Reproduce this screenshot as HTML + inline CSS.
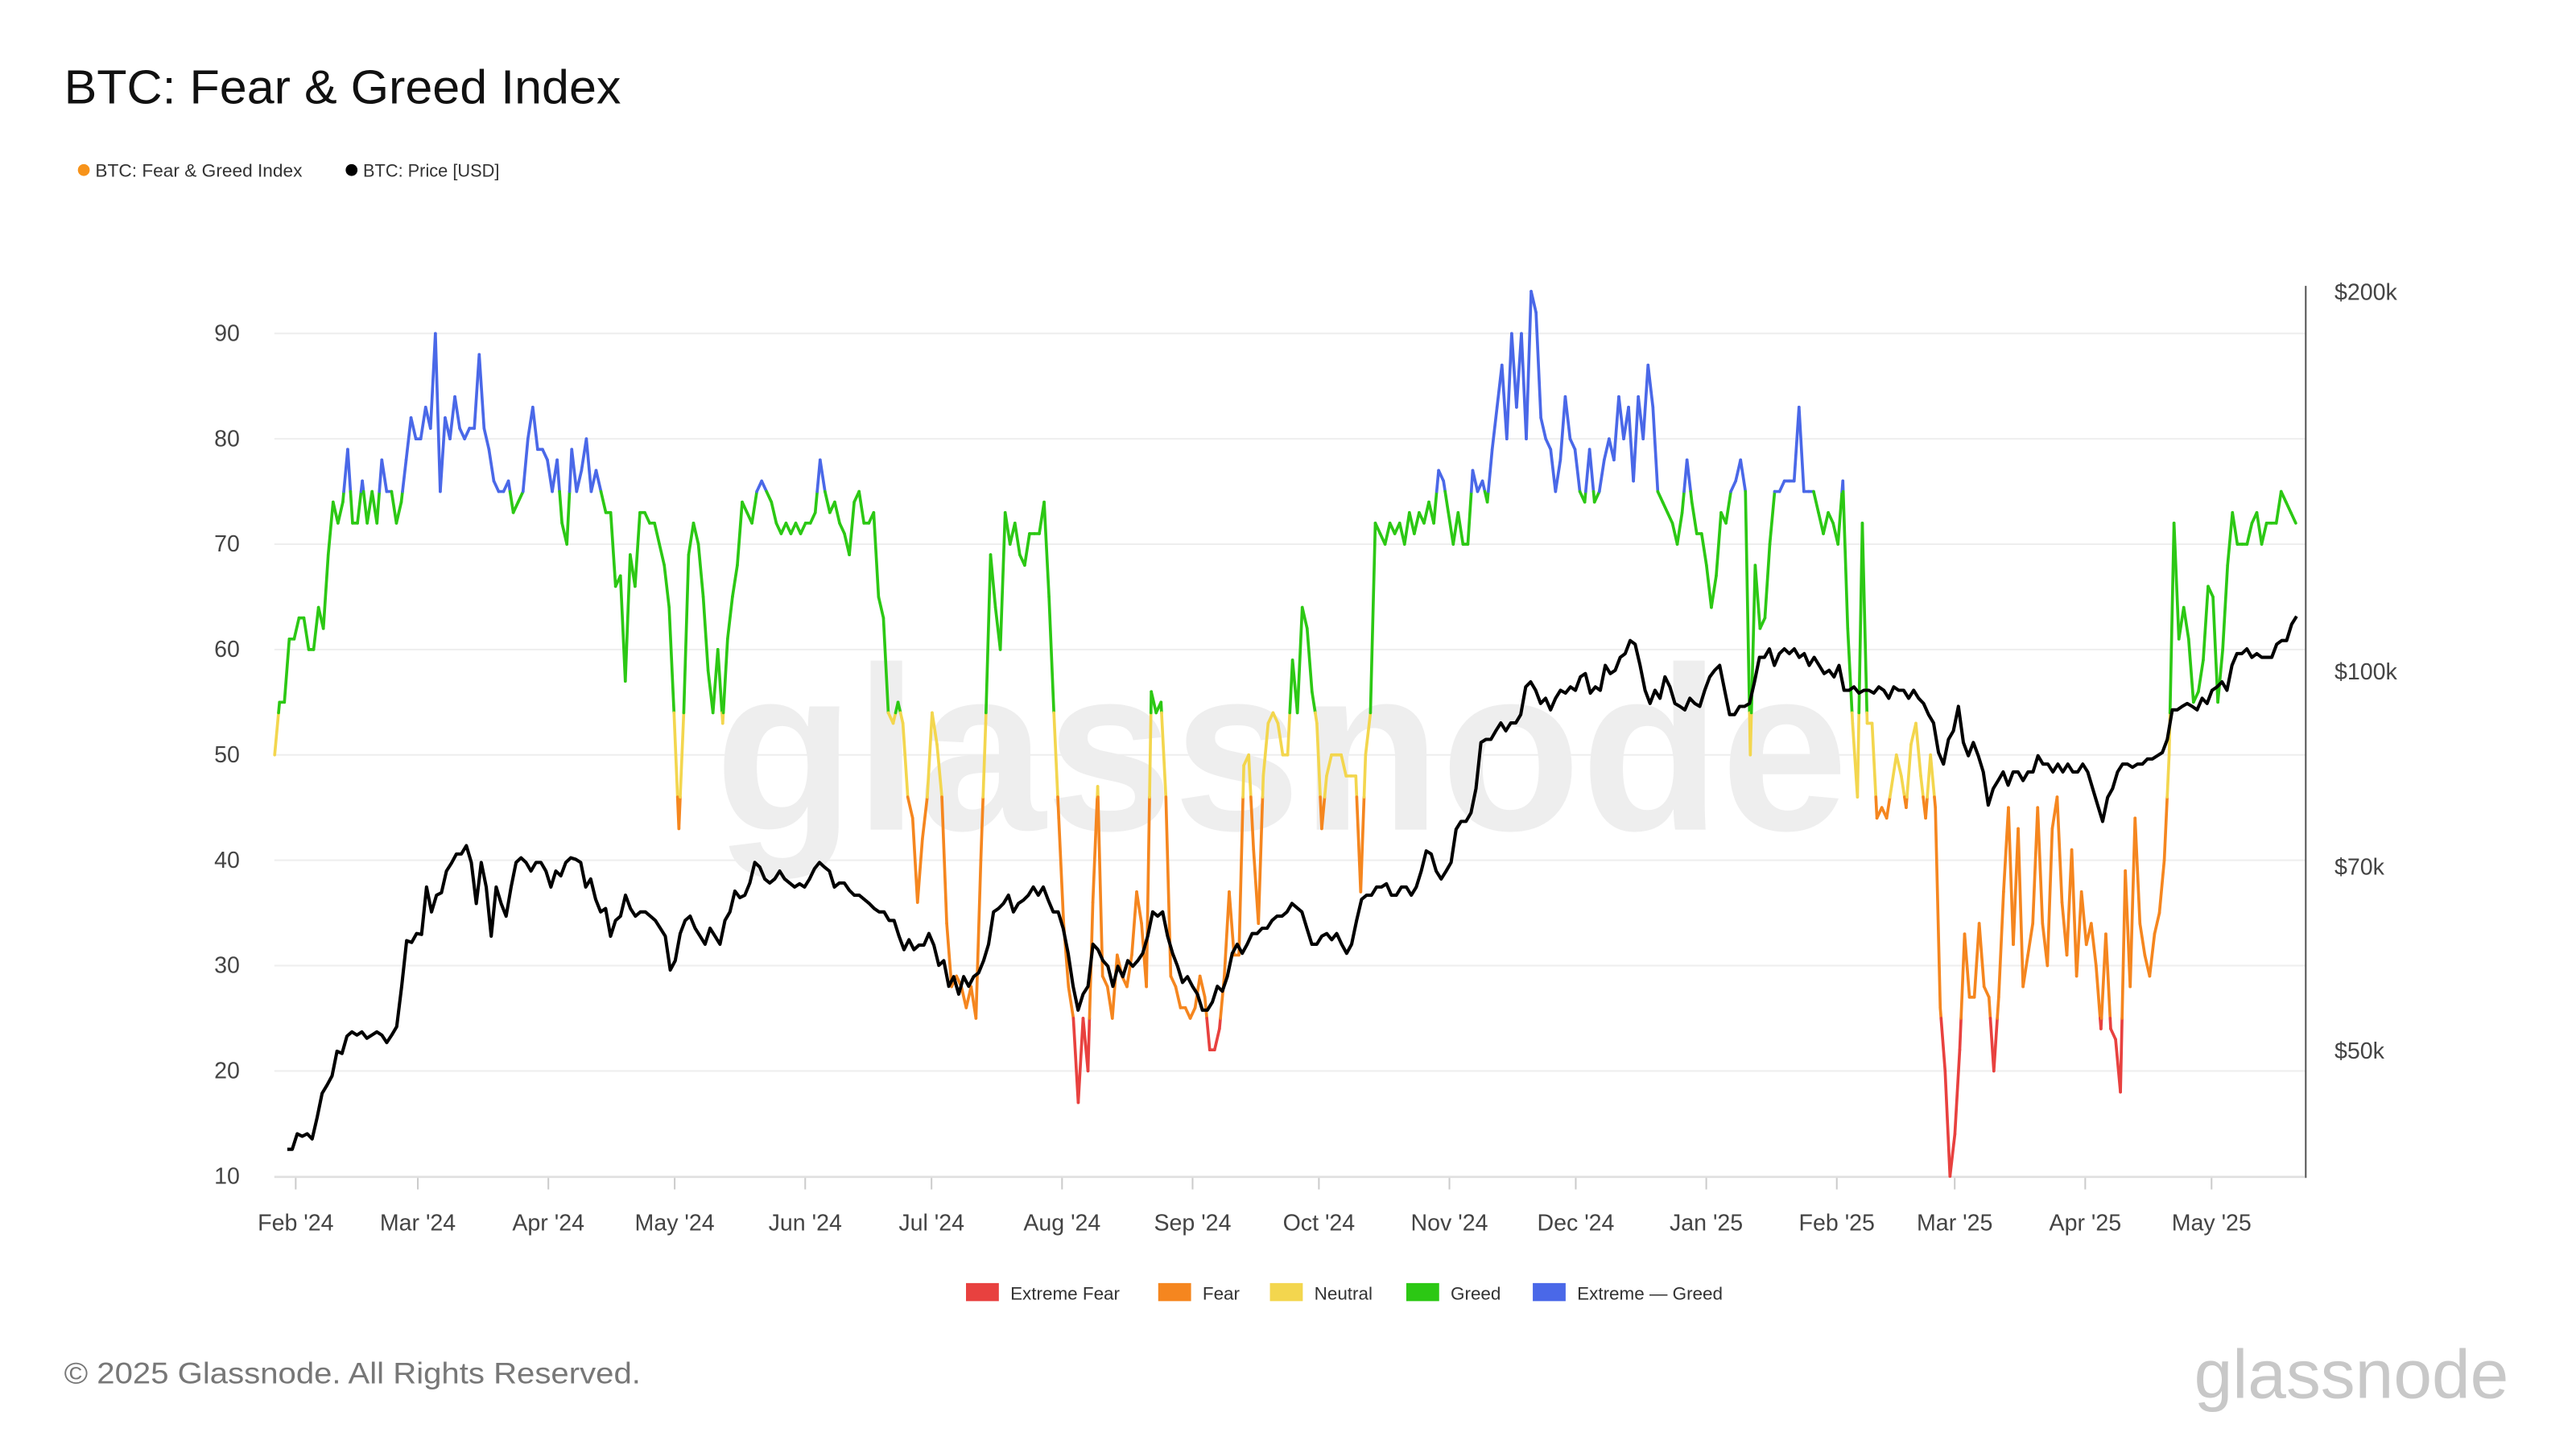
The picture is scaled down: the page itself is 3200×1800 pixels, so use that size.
<!DOCTYPE html>
<html><head><meta charset="utf-8">
<style>
html,body{margin:0;padding:0;background:#fff;}
svg{display:block;}
text{font-family:"Liberation Sans",sans-serif;}
</style></head>
<body>
<svg id="chart" width="3200" height="1800" viewBox="0 0 1568 882" xmlns="http://www.w3.org/2000/svg">
  <rect x="0" y="0" width="1568" height="882" fill="#fff"/>
  <text x="39" y="63" font-size="29" fill="#111" textLength="339" lengthAdjust="spacingAndGlyphs">BTC: Fear &amp; Greed Index</text>
  <g>
    <circle cx="51" cy="103.5" r="3.6" fill="#f7931a"/>
    <text x="58" y="107.5" font-size="11" fill="#333" textLength="126" lengthAdjust="spacingAndGlyphs">BTC: Fear &amp; Greed Index</text>
    <circle cx="214" cy="103.5" r="3.6" fill="#000"/>
    <text x="221" y="107.5" font-size="11" fill="#333" textLength="83" lengthAdjust="spacingAndGlyphs">BTC: Price [USD]</text>
  </g>
  <text x="780" y="505" font-size="142" fill="#eeeeee" text-anchor="middle" font-weight="bold" textLength="690" lengthAdjust="spacingAndGlyphs">glassnode</text>
  <g id="grid"></g>
  <g id="axes"></g>
  <g id="fgi"></g>
  <g id="price"></g>
  <g font-size="11" fill="#333">
    <rect x="588" y="781" width="20" height="11" fill="#e8413f"/>
    <text x="615" y="791">Extreme Fear</text>
    <rect x="705" y="781" width="20" height="11" fill="#f5861f"/>
    <text x="732" y="791">Fear</text>
    <rect x="773" y="781" width="20" height="11" fill="#f3d64e"/>
    <text x="800" y="791">Neutral</text>
    <rect x="856" y="781" width="20" height="11" fill="#2cc814"/>
    <text x="883" y="791">Greed</text>
    <rect x="933" y="781" width="20" height="11" fill="#4a68e8"/>
    <text x="960" y="791">Extreme — Greed</text>
  </g>
  <text x="39" y="842" font-size="18" fill="#777" textLength="351" lengthAdjust="spacingAndGlyphs">© 2025 Glassnode. All Rights Reserved.</text>
  <text x="1527" y="851" font-size="42" fill="#c8c8c8" text-anchor="end">glassnode</text>
</svg>
<script>
const leftTicks = [10,20,30,40,50,60,70,80,90];
const rightTicks = [50,70,100,200];
const rightTickLabels = ["$50k","$70k","$100k","$200k"];
const monthLabels = ["Feb '24","Mar '24","Apr '24","May '24","Jun '24","Jul '24","Aug '24","Sep '24","Oct '24","Nov '24","Dec '24","Jan '25","Feb '25","Mar '25","Apr '25","May '25"];
const monthDays = [0,29,60,90,121,151,182,213,243,274,304,335,366,394,425,455];
const fgiStartDay = -5;
const fgiEndDay = 475;
const priceStartDay = -2;
const priceEndDay = 475.2;
const fgiValues = [50,55,55,61,61,63,63,60,60,64,62,69,74,72,74,79,72,72,76,72,75,72,78,75,75,72,74,78,82,80,80,83,81,90,75,82,80,84,81,80,81,81,88,81,79,76,75,75,76,73,74,75,80,83,79,79,78,75,78,72,70,79,75,77,80,75,77,75,73,73,66,67,57,69,66,73,73,72,72,70,68,64,54,43,54,69,72,70,65,58,54,60,53,61,65,68,74,73,72,75,76,75,74,72,71,72,71,72,71,72,72,73,78,75,73,74,72,71,69,74,75,72,72,73,65,63,54,53,55,53,46,44,36,42,46,54,51,46,34,28,29,28,26,28,25,40,53,69,64,60,73,70,72,69,68,71,71,71,74,65,54,44,34,28,25,17,25,20,36,47,29,28,25,31,29,28,31,37,34,28,56,54,55,46,29,28,26,26,25,26,29,27,22,22,24,29,37,31,31,49,50,41,34,48,53,54,53,50,50,59,54,64,62,56,53,43,48,50,50,50,48,48,48,37,50,54,72,71,70,72,71,72,70,73,71,73,72,74,72,77,76,73,70,73,70,70,77,75,76,74,79,83,87,80,90,83,90,80,94,92,82,80,79,75,78,84,80,79,75,74,79,74,75,78,80,78,84,80,83,76,84,80,87,83,75,74,73,72,70,73,78,74,71,71,68,64,67,73,72,75,76,78,75,50,68,62,63,70,75,75,76,76,76,83,75,75,75,73,71,73,72,70,76,62,53,46,72,53,53,44,45,44,47,50,48,45,51,53,48,44,50,45,26,20,10,14,22,33,27,27,34,28,27,20,27,37,45,32,43,28,31,34,45,34,30,43,46,36,31,41,29,37,32,34,30,24,33,24,23,18,39,28,44,34,31,29,33,35,40,50,72,61,64,61,55,56,59,66,65,55,60,68,73,70,70,70,72,73,70,72,72,72,75,74,73,72];
const priceValuesK = [41.8,41.8,43.0,42.8,43.0,42.6,44.3,46.3,47.0,47.8,50.0,49.8,51.4,51.8,51.5,51.8,51.2,51.5,51.8,51.5,50.8,51.5,52.3,56.3,61.2,61.0,62.0,61.9,67.5,64.5,66.5,66.8,69.5,70.5,71.7,71.7,72.8,70.6,65.5,70.6,67.5,61.7,67.5,65.5,64.0,67.5,70.6,71.2,70.6,69.5,70.6,70.6,69.5,67.5,69.5,68.9,70.6,71.2,71.0,70.6,67.5,68.5,66.0,64.5,64.9,61.7,63.5,64.0,66.5,64.9,64.0,64.5,64.5,64.0,63.5,62.6,61.7,58.0,59.0,62.0,63.5,64.0,62.6,61.7,60.8,62.6,61.7,60.8,63.5,64.5,67.0,66.2,66.5,68.0,70.6,70.0,68.5,68.0,68.5,69.5,68.5,68.0,67.5,67.9,67.5,68.5,69.8,70.6,70.0,69.5,67.5,68.0,68.0,67.1,66.5,66.5,66.0,65.5,64.9,64.5,64.5,63.5,63.5,61.7,60.2,61.3,60.2,60.7,60.7,62.0,60.7,58.5,59.0,56.3,57.3,55.5,57.3,56.3,57.3,57.7,59.0,60.8,64.5,64.9,65.5,66.5,64.5,65.5,65.9,66.5,67.5,66.5,67.5,65.9,64.5,64.5,62.6,59.8,56.3,53.9,55.5,56.3,60.8,60.2,59.0,58.4,56.3,58.4,57.3,59.0,58.4,59.0,59.8,61.7,64.5,64.0,64.5,61.7,59.8,58.4,56.7,57.3,56.3,55.5,53.9,53.9,54.7,56.3,55.8,57.3,59.8,60.8,59.8,60.8,62.0,62.0,62.6,62.6,63.5,64.0,64.0,64.5,65.5,65.0,64.5,62.6,60.8,60.8,61.7,62.0,61.3,62.0,60.8,59.8,60.8,63.5,66.0,66.5,66.5,67.5,67.5,67.9,66.5,66.5,67.5,67.5,66.5,67.5,69.5,72.1,71.7,69.5,68.5,69.5,70.6,75.0,76.1,76.1,77.3,80.8,87.9,88.4,88.4,89.8,91.1,89.8,91.1,91.1,92.5,97.3,98.2,96.7,94.4,95.3,93.3,95.3,96.7,96.2,97.3,96.7,99.1,99.7,96.2,97.3,96.7,101.2,99.7,100.3,102.7,103.4,105.9,105.2,101.2,96.7,94.4,96.7,95.3,99.1,97.3,94.4,93.9,93.3,95.3,94.4,93.9,96.7,99.1,100.3,101.2,96.7,92.5,92.5,93.9,93.9,94.4,98.2,102.7,102.7,104.3,101.2,103.4,104.3,103.4,104.3,102.7,103.4,101.2,102.7,101.2,99.7,100.3,99.1,101.2,96.7,96.7,97.3,96.2,96.7,96.7,96.2,97.3,96.7,95.3,97.3,96.7,96.7,95.3,96.7,95.3,94.4,92.5,91.1,86.3,84.5,88.4,89.8,93.9,87.9,85.8,87.9,85.8,83.3,78.4,80.8,82.0,83.3,81.3,83.3,83.3,82.0,83.3,83.3,85.8,84.5,84.5,83.3,84.5,83.3,84.5,83.3,83.3,84.5,83.3,80.8,78.4,76.1,79.5,80.8,83.3,84.5,84.5,84.0,84.5,84.5,85.3,85.3,85.8,86.3,88.4,93.3,93.3,93.9,94.4,93.9,93.3,95.3,94.4,96.7,97.3,98.2,96.7,101.2,103.4,103.4,104.3,102.7,103.4,102.7,102.7,102.7,105.2,105.9,105.9,109.1,110.7];
const thresholds = [25,46,54,75];

const NS = "http://www.w3.org/2000/svg";
const xOf = d => 180 + d * 2.563;
const yLeft = v => 203 + (90 - v) * 6.4125;
const yRight = p => 409 - 767 * Math.log10(p / 100);
const dayAt = (i, n, s, e) => s + (e - s) * i / (n - 1);
function zoneColor(v){
  if (v < 25) return "#e8413f";
  if (v < 46) return "#f5861f";
  if (v < 54) return "#f3d64e";
  if (v < 75) return "#2cc814";
  return "#4a68e8";
}
function mk(tag, attrs, parent){
  const el = document.createElementNS(NS, tag);
  for (const k in attrs) el.setAttribute(k, attrs[k]);
  parent.appendChild(el);
  return el;
}
const grid = document.getElementById("grid");
const axes = document.getElementById("axes");
leftTicks.forEach(t => {
  const y = yLeft(t);
  const g = mk("line", {x1:167, x2:1403, y1:y, y2:y, stroke:"#eeeeee", "stroke-width":1}, grid);
  
  
  const tx = mk("text", {x:146, y:y+4.5, "font-size":14, fill:"#444", "text-anchor":"end"}, axes);
  tx.textContent = t;
  
  
});
rightTicks.forEach((p, i) => {
  const y = yRight(p);
  const tx = mk("text", {x:1421, y:y+4.5, "font-size":14, fill:"#444"}, axes);
  tx.textContent = rightTickLabels[i];
  
  
});
const ra = mk("line", {x1:1403.5, x2:1403.5, y1:174, y2:717, stroke:"#555", "stroke-width":1}, axes);


const xa = mk("line", {x1:167, x2:1403, y1:716.5, y2:716.5, stroke:"#ddd", "stroke-width":1}, axes);


monthLabels.forEach((lab, i) => {
  const x = xOf(monthDays[i]);
  const tk = mk("line", {x1:x, x2:x, y1:717, y2:724, stroke:"#ccc", "stroke-width":1}, axes);
  
  
  const tx = mk("text", {x:x, y:749, "font-size":14, fill:"#444", "text-anchor":"middle"}, axes);
  tx.textContent = lab;
  
  
});

const fg = document.getElementById("fgi");
const nF = fgiValues.length;
for (let i = 0; i < nF - 1; i++) {
  const d0 = dayAt(i, nF, fgiStartDay, fgiEndDay), d1 = dayAt(i+1, nF, fgiStartDay, fgiEndDay);
  const v0 = fgiValues[i], v1 = fgiValues[i+1];
  const pts = [[d0, v0]];
  const lo = Math.min(v0, v1), hi = Math.max(v0, v1);
  const cross = thresholds.filter(t => t > lo && t < hi).map(t => (t - v0) / (v1 - v0)).sort((a,b) => a-b);
  cross.forEach(f => pts.push([d0 + (d1-d0)*f, v0 + (v1-v0)*f]));
  pts.push([d1, v1]);
  for (let k = 0; k < pts.length - 1; k++) {
    const a = pts[k], b = pts[k+1];
    const seg = mk("line", {x1:xOf(a[0]), y1:yLeft(a[1]), x2:xOf(b[0]), y2:yLeft(b[1]), stroke:zoneColor((a[1]+b[1])/2), "stroke-width":1.8, "stroke-linecap":"round"}, fg);
    
    
  }
}
const pg = document.getElementById("price");
const nP = priceValuesK.length;
let dstr = "";
priceValuesK.forEach((p, i) => {
  dstr += (i ? "L" : "M") + xOf(dayAt(i, nP, priceStartDay, priceEndDay)).toFixed(2) + "," + yRight(p).toFixed(2);
});
const pl = mk("path", {d:dstr, fill:"none", stroke:"#000", "stroke-width":2, "stroke-linejoin":"round"}, pg);


</script>
</body></html>
